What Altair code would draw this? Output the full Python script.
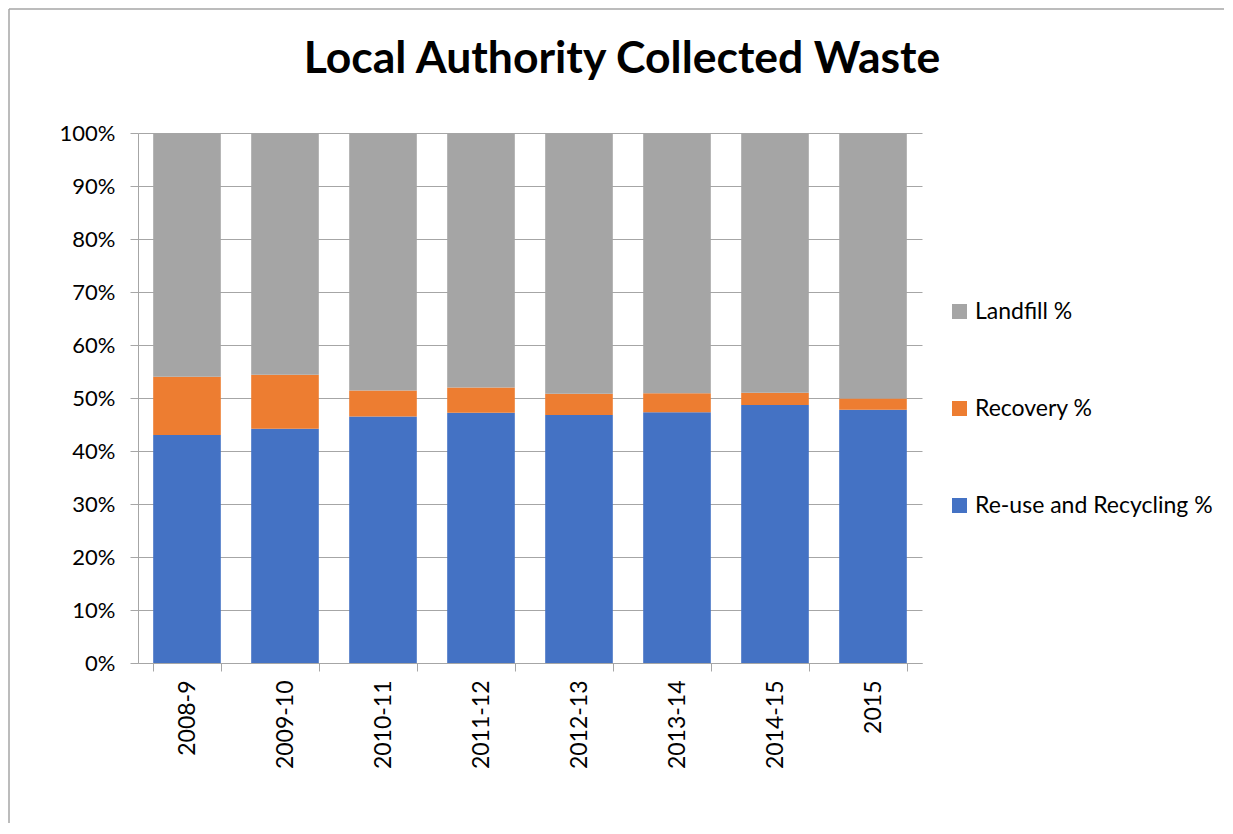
import altair as alt
import pandas as pd

title_text = "Local Authority Collected Waste"
years = ["2008-9", "2009-10", "2010-11", "2011-12", "2012-13", "2013-14", "2014-15", "2015"]
recycling = [43.0, 44.2, 46.5, 47.2, 46.8, 47.3, 48.7, 47.8]
recovery = [11.0, 10.2, 4.9, 4.8, 4.0, 3.6, 2.3, 2.1]
landfill = [46.0, 45.6, 48.6, 48.0, 49.2, 49.1, 49.0, 50.1]

series = ["Landfill %", "Recovery %", "Re-use and Recycling %"]
colors = ["#A5A5A5", "#ED7D31", "#4472C4"]
stack_rank = {"Re-use and Recycling %": 0, "Recovery %": 1, "Landfill %": 2}

rows = []
for i, y in enumerate(years):
    for name, vals in (("Re-use and Recycling %", recycling), ("Recovery %", recovery), ("Landfill %", landfill)):
        rows.append({"year": y, "series": name, "value": vals[i] / 100.0, "rank": stack_rank[name]})
df = pd.DataFrame(rows)

FONT = "Lato"

bars = alt.Chart(df).mark_bar().encode(
    x=alt.X("year:N", sort=years, title=None,
            scale=alt.Scale(paddingInner=0.31, paddingOuter=0.155),
            axis=alt.Axis(labelAngle=-90, labelAlign="right", labelBaseline="middle",
                          labelFontSize=23, labelColor="#000000", labelFont=FONT,
                          labelPadding=9, tickSize=8, tickColor="#a6a6a6",
                          domainColor="#a6a6a6", tickBand="extent", grid=False)),
    y=alt.Y("value:Q", stack="zero", title=None,
            scale=alt.Scale(domain=[0, 1], nice=False),
            axis=alt.Axis(format=".0%", values=[i / 10 for i in range(11)],
                          labelFontSize=22, labelColor="#000000", labelFont=FONT,
                          labelPadding=15, tickSize=8, tickColor="#a6a6a6",
                          domainColor="#a6a6a6", gridColor="#a6a6a6", gridWidth=1)),
    color=alt.Color("series:N", scale=alt.Scale(domain=series, range=colors),
                    legend=alt.Legend(title=None, orient="none", legendX=810, legendY=167,
                                      symbolType="square", symbolSize=225, symbolStrokeWidth=0,
                                      labelFontSize=23, labelFont=FONT, labelColor="#000000",
                                      labelLimit=400, rowPadding=73, labelOffset=4)),
    order=alt.Order("rank:Q", sort="ascending"),
)

title = alt.Chart(pd.DataFrame({"t": [title_text]})).mark_text(
    font=FONT, fontSize=44.5, fontWeight="bold", color="#000000", align="center", baseline="alphabetic"
).encode(text="t:N", x=alt.value(484), y=alt.value(-60))

frame = alt.Chart(pd.DataFrame({"k": [0]})).mark_rule(color="#a6a6a6", strokeWidth=1.5).encode(
    x=alt.value(-129), y=alt.value(-124), y2=alt.value(720)
)
frame_top = alt.Chart(pd.DataFrame({"k": [0]})).mark_rule(color="#a6a6a6", strokeWidth=1.5).encode(
    x=alt.value(-129), x2=alt.value(1100), y=alt.value(-124)
)

chart = alt.layer(bars, title, frame, frame_top).properties(
    width=784, height=530,
    padding={"left": 130, "top": 125, "right": 302, "bottom": 160},
    autosize=alt.AutoSizeParams(type="none"),
).configure_view(stroke=None)

chart.save("out.html", embed_options={"renderer": "svg", "actions": False})
